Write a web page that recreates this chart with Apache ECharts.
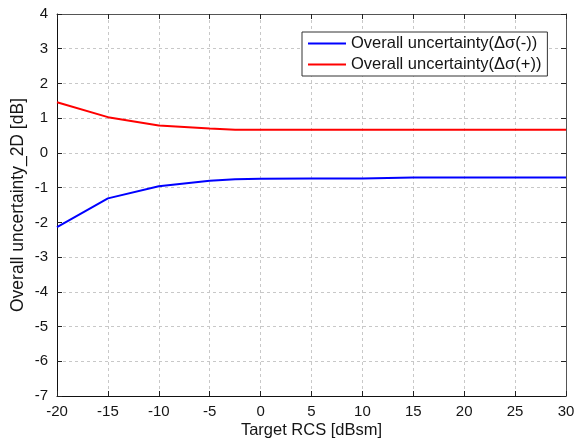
<!DOCTYPE html>
<html><head><meta charset="utf-8">
<script src="https://cdn.jsdelivr.net/npm/echarts@6/dist/echarts.min.js"></script>
<style>html,body{margin:0;padding:0;background:#fff}#c{width:574px;height:445px}</style>
</head><body><div id="c"></div>
<script>
const xValues = [-20, -15, -10, -5, -2.5, 0, 5, 10, 15, 20, 25, 30];
const minusValues = [-2.14, -1.31, -0.96, -0.80, -0.76, -0.745, -0.74, -0.74, -0.71, -0.71, -0.71, -0.71];
const plusValues = [1.46, 1.03, 0.79, 0.70, 0.67, 0.665, 0.665, 0.665, 0.665, 0.665, 0.665, 0.665];
const seriesNames = ['Overall uncertainty(Δσ(-))', 'Overall uncertainty(Δσ(+))'];
const xTicks = [-20, -15, -10, -5, 0, 5, 10, 15, 20, 25, 30];
const yTicks = [-7, -6, -5, -4, -3, -2, -1, 0, 1, 2, 3, 4];

const font = 'Liberation Sans, Arial, sans-serif';
const txt = '#151515';
const chart = echarts.init(document.getElementById('c'), null, {renderer: 'canvas'});
const gridLine = {show: true, lineStyle: {color: '#c8c8c8', type: [3, 3], width: 1}};
const axLine = {show: true, onZero: false, lineStyle: {color: '#111', width: 1}};
const axLine2 = {show: true, onZero: false, lineStyle: {color: '#555', width: 1}};
const tick = {show: true, inside: true, length: 5, lineStyle: {color: '#222'}};
chart.setOption({
  animation: false,
  backgroundColor: '#fff',
  grid: {left: 57, right: 8, top: 14, bottom: 49, containLabel: false, outerBoundsMode: 'none'},
  legend: {
    orient: 'vertical', left: 302, top: 32, data: seriesNames,
    itemWidth: 38, itemHeight: 2, itemGap: 4,
    padding: [3, 6, 3, 6],
    borderColor: '#333', borderWidth: 1, backgroundColor: '#fff',
    textStyle: {fontFamily: font, fontSize: 16.5, color: txt},
    icon: 'rect'
  },
  xAxis: [{
    type: 'value', min: xTicks[0], max: xTicks[xTicks.length - 1], interval: 5,
    name: 'Target RCS [dBsm]', nameLocation: 'middle', nameGap: 26, nameMoveOverlap: false,
    nameTextStyle: {fontFamily: font, fontSize: 16.5, color: txt},
    axisLine: axLine, axisTick: tick, splitLine: gridLine,
    axisLabel: {fontFamily: font, fontSize: 15, color: txt, margin: 8}
  }, {
    type: 'value', position: 'top', min: xTicks[0], max: xTicks[xTicks.length - 1], interval: 5,
    axisLine: axLine2, axisTick: tick, splitLine: {show: false}, axisLabel: {show: false}
  }],
  yAxis: [{
    type: 'value', min: yTicks[0], max: yTicks[yTicks.length - 1], interval: 1,
    name: 'Overall uncertainty_2D [dB]', nameLocation: 'middle', nameGap: 30, nameMoveOverlap: false,
    nameTextStyle: {fontFamily: font, fontSize: 17.5, color: txt},
    axisLine: axLine, axisTick: tick, splitLine: gridLine,
    axisLabel: {fontFamily: font, fontSize: 15, color: txt, margin: 9}
  }, {
    type: 'value', position: 'right', min: yTicks[0], max: yTicks[yTicks.length - 1], interval: 1,
    axisLine: axLine2, axisTick: tick, splitLine: {show: false}, axisLabel: {show: false}
  }],
  series: [
    {name: seriesNames[0], type: 'line', showSymbol: false, color: '#0000ff',
     lineStyle: {width: 2, color: '#0000ff'},
     data: xValues.map((x, i) => [x, minusValues[i]])},
    {name: seriesNames[1], type: 'line', showSymbol: false, color: '#ff0000',
     lineStyle: {width: 2, color: '#ff0000'},
     data: xValues.map((x, i) => [x, plusValues[i]])}
  ]
});
</script></body></html>
